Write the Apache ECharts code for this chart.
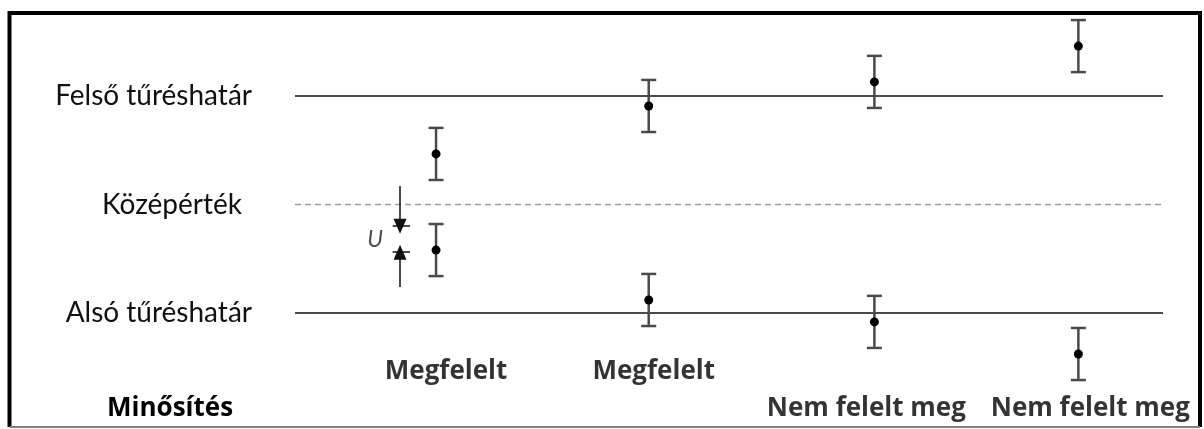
<!DOCTYPE html>
<html>
<head>
<meta charset="utf-8">
<script src="https://cdn.jsdelivr.net/npm/echarts@6/dist/echarts.min.js"></script>
<style>html,body{margin:0;padding:0;background:#fff}#c{width:1204px;height:429px}</style>
</head>
<body>
<div id="c"></div>
<script>
// ---- data ----
const positions = [0.65, 1.63, 2.67, 3.61];
const upperResults = [7.33, 9.54, 10.65, 12.30];
const lowerResults = [2.90, 0.60, -0.41, -1.89];
const uncertainty = 1.2;
const ratings = ['Megfelelt', 'Megfelelt', 'Nem felelt meg', 'Nem felelt meg'];
const ratingRow = [-2.72, -2.72, -4.42, -4.42];
const limitValues = [10, 5, 0];
const limitLabels = ['Felső tűréshatár', 'Középérték', 'Alsó tűréshatár'];
const ratingTitle = 'Minősítés';
const uLabel = 'U';
const uStart = 2.8;
const uArrowTails = [5.85, 1.2];
const uX = 0.484;

const FONT = 'Lato';
const BOLD = 'Open Sans';
const chart = echarts.init(document.getElementById('c'), null, {renderer: 'canvas'});

const results = [];
positions.forEach((x, i) => {
  results.push([x, upperResults[i], uncertainty]);
  results.push([x, lowerResults[i], uncertainty]);
});

function renderErr(params, api) {
  const x = api.value(0), y = api.value(1), u = api.value(2);
  const c = api.coord([x, y]);
  const t = api.coord([x, y + u]);
  const b = api.coord([x, y - u]);
  const hw = 7.5;
  const st = {stroke: '#4a4a4a', lineWidth: 2.5};
  return {
    type: 'group',
    children: [
      {type: 'line', shape: {x1: c[0], y1: t[1], x2: c[0], y2: b[1]}, style: st},
      {type: 'line', shape: {x1: c[0] - hw, y1: t[1], x2: c[0] + hw, y2: t[1]}, style: st},
      {type: 'line', shape: {x1: c[0] - hw, y1: b[1], x2: c[0] + hw, y2: b[1]}, style: st},
      {type: 'circle', shape: {cx: c[0], cy: c[1], r: 4.5}, style: {fill: '#000'}}
    ]
  };
}

const refLines = limitValues.map((v, i) => ({
  type: 'line',
  data: [[0, v], [4, v]],
  symbol: 'none',
  silent: true,
  lineStyle: i === 1 ? {color: '#a0a0a0', width: 1.5, type: [6, 4]} : {color: '#4a4a4a', width: 2}
}));

const uEnd = uStart + uncertainty;

const option = {
  animation: false,
  backgroundColor: '#fff',
  grid: {left: 295, right: 41, top: 9.2, bottom: 7.5},
  xAxis: {type: 'value', min: 0, max: 4, show: false},
  yAxis: {
    type: 'value', min: -5, max: 14, interval: 5,
    axisLine: {show: false}, axisTick: {show: false}, splitLine: {show: false},
    axisLabel: {
      margin: 43,
      fontFamily: FONT, fontSize: 28, color: '#111',
      formatter: v => {
        const k = limitValues.indexOf(v);
        if (k < 0) return '';
        return k === 1 ? '{b|' + limitLabels[k] + '}' : '{a|' + limitLabels[k] + '}';
      },
      rich: {
        a: {fontFamily: FONT, fontSize: 28, color: '#111'},
        b: {fontFamily: FONT, fontSize: 28, color: '#111', padding: [0, 10, 0, 0]}
      }
    }
  },
  graphic: [
    {type: 'polyline', shape: {points: [[9.5, 427], [9.5, 13], [1200, 13], [1200, 427]]}, style: {stroke: '#000', lineWidth: 4, fill: null}, z: 100},
    {type: 'line', shape: {x1: 9.5, y1: 427, x2: 1200, y2: 427}, style: {stroke: '#808080', lineWidth: 2}, z: 100},
    {type: 'text', x: 107, y: 409, style: {text: ratingTitle, fontFamily: BOLD, fontWeight: 'bold', fontSize: 26, fill: '#000', verticalAlign: 'middle'}}
  ],
  series: [
    ...refLines,
    {
      type: 'line', symbol: 'none', silent: true, data: [],
      markLine: {
        silent: true, symbol: ['none', 'none'], label: {show: false},
        lineStyle: {color: '#111', width: 1.5, type: 'solid'},
        data: [
          [{coord: [uX, uArrowTails[0]], symbol: 'none'}, {coord: [uX, uEnd], symbol: 'triangle', symbolSize: [13, 15], symbolRotate: 180}],
          [{coord: [uX, uArrowTails[1]], symbol: 'none'}, {coord: [uX, uStart], symbol: 'triangle', symbolSize: [13, 15], symbolRotate: 0}],
          [{coord: [uX - 0.034, uEnd]}, {coord: [uX + 0.046, uEnd]}],
          [{coord: [uX - 0.034, uStart]}, {coord: [uX + 0.046, uStart]}]
        ]
      }
    },
    {
      type: 'scatter', symbolSize: 0, silent: true,
      data: [[uX - 0.115, (uStart + uEnd) / 2]],
      label: {show: true, position: 'inside', formatter: uLabel, fontFamily: FONT, fontStyle: 'italic', fontSize: 23, color: '#222'}
    },
    {
      type: 'custom', renderItem: renderErr, data: results, silent: true, z: 5
    },
    {
      type: 'scatter', symbolSize: 0, silent: true,
      data: positions.map((x, i) => ({
        value: [x, ratingRow[i]],
        label: {offset: [[10, 5, -8, 12][i], 0]}
      })),
      label: {
        show: true, position: 'inside',
        formatter: p => ratings[p.dataIndex],
        fontFamily: BOLD, fontWeight: 'bold', fontSize: 26, color: '#000'
      }
    }
  ]
};
chart.setOption(option);
</script>
</body>
</html>
